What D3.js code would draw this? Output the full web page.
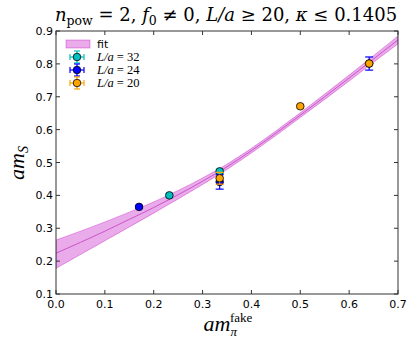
<!DOCTYPE html>
<html><head><meta charset="utf-8">
<script src="https://cdn.jsdelivr.net/npm/d3@7"></script>
<style>body{margin:0;background:#fff}svg{display:block}</style>
</head><body>
<svg id="c" width="416" height="348"></svg>
<script>
// ---- data ----
const fitX    = [0, 0.05, 0.1, 0.15, 0.2, 0.25, 0.3, 0.35, 0.4, 0.45, 0.5, 0.55, 0.6, 0.65, 0.7];
const fitMid  = [0.224, 0.257, 0.291, 0.327, 0.363, 0.402, 0.443, 0.487, 0.536, 0.589, 0.644, 0.700, 0.757, 0.815, 0.873];
const fitLow  = [0.178, 0.220, 0.262, 0.304, 0.346, 0.389, 0.433, 0.479, 0.529, 0.582, 0.637, 0.692, 0.748, 0.805, 0.861];
const fitHigh = [0.264, 0.291, 0.319, 0.349, 0.380, 0.415, 0.453, 0.495, 0.543, 0.596, 0.651, 0.708, 0.766, 0.825, 0.885];

const seriesNames = ["L/a = 32", "L/a = 24", "L/a = 20"];
const seriesColors = ["#00bfbf", "#0000ff", "#ffa500"];
const s32x = [0.232, 0.335];
const s32y = [0.400, 0.473];
const s32e = [0.005, 0.006];
const s24x = [0.170, 0.335, 0.641];
const s24y = [0.365, 0.441, 0.801];
const s24e = [0.004, 0.022, 0.020];
const s20x = [0.335, 0.500, 0.641];
const s20y = [0.452, 0.671, 0.801];
const s20e = [0.018, 0.005, 0.006];

const xTicks = [0, 0.1, 0.2, 0.3, 0.4, 0.5, 0.6, 0.7];
const yTicks = [0.1, 0.2, 0.3, 0.4, 0.5, 0.6, 0.7, 0.8, 0.9];

// ---- layout ----
const svg = d3.select("#c");
const L = 56, R = 398, T = 31, B = 294;
const x = d3.scaleLinear().domain([0, 0.7]).range([L, R]);
const y = d3.scaleLinear().domain([0.1, 0.9]).range([B, T]);

svg.append("defs").append("clipPath").attr("id", "pc")
  .append("rect").attr("x", L).attr("y", T).attr("width", R - L).attr("height", B - T);
const plot = svg.append("g").attr("clip-path", "url(#pc)");

// band
const fit = fitX.map((v, i) => ({x: v, m: fitMid[i], lo: fitLow[i], hi: fitHigh[i]}));
plot.append("path").datum(fit)
  .attr("d", d3.area().x(d => x(d.x)).y0(d => y(d.lo)).y1(d => y(d.hi)).curve(d3.curveMonotoneX))
  .attr("fill", "#bf00bf").attr("fill-opacity", 0.33)
  .attr("stroke", "#bf00bf").attr("stroke-opacity", 0.35).attr("stroke-width", 1);
plot.append("path").datum(fit)
  .attr("d", d3.line().x(d => x(d.x)).y(d => y(d.m)).curve(d3.curveMonotoneX))
  .attr("fill", "none").attr("stroke", "#c040c0").attr("stroke-width", 1).attr("stroke-opacity", 0.8);

// series
const series = [
  {xs: s32x, ys: s32y, es: s32e},
  {xs: s24x, ys: s24y, es: s24e},
  {xs: s20x, ys: s20y, es: s20e}
];
series.forEach((s, k) => {
  const col = seriesColors[k];
  const g = plot.append("g");
  const pts = s.xs.map((v, i) => ({x: v, y: s.ys[i], e: s.es[i]}));
  const eb = g.selectAll("g.eb").data(pts).join("g");
  eb.append("line").attr("x1", d => x(d.x)).attr("x2", d => x(d.x))
    .attr("y1", d => y(d.y - d.e)).attr("y2", d => y(d.y + d.e)).attr("stroke", col).attr("stroke-width", 1.2);
  [-1, 1].forEach(sg => {
    eb.append("line").attr("x1", d => x(d.x) - 4).attr("x2", d => x(d.x) + 4)
      .attr("y1", d => y(d.y + sg * d.e)).attr("y2", d => y(d.y + sg * d.e)).attr("stroke", col).attr("stroke-width", 1.2);
  });
  g.selectAll("circle").data(pts).join("circle")
    .attr("cx", d => x(d.x)).attr("cy", d => y(d.y)).attr("r", 3.8)
    .attr("fill", col).attr("stroke", "#000").attr("stroke-width", 0.8);
});

// frame & ticks
const ax = svg.append("g").attr("stroke", "#333").attr("stroke-width", 1);
ax.append("rect").attr("x", L).attr("y", T).attr("width", R - L).attr("height", B - T).attr("fill", "none");
xTicks.forEach(t => {
  ax.append("line").attr("x1", x(t)).attr("x2", x(t)).attr("y1", B).attr("y2", B - 4);
  ax.append("line").attr("x1", x(t)).attr("x2", x(t)).attr("y1", T).attr("y2", T + 4);
});
yTicks.forEach(t => {
  ax.append("line").attr("x1", L).attr("x2", L + 4).attr("y1", y(t)).attr("y2", y(t));
  ax.append("line").attr("x1", R).attr("x2", R - 4).attr("y1", y(t)).attr("y2", y(t));
});
const tf = "DejaVu Sans, sans-serif";
svg.append("g").selectAll("text").data(xTicks).join("text")
  .attr("x", d => x(d)).attr("y", B + 14).attr("text-anchor", "middle")
  .attr("font-family", tf).attr("font-size", 11).text(d => d.toFixed(1));
svg.append("g").selectAll("text").data(yTicks).join("text")
  .attr("x", L - 3).attr("y", d => y(d) + 4).attr("text-anchor", "end")
  .attr("font-family", tf).attr("font-size", 11).text(d => d.toFixed(1));

// axis labels
const sf = "Liberation Serif, DejaVu Serif, serif";
const xl = svg.append("text").attr("x", 228).attr("y", 331).attr("text-anchor", "middle")
  .attr("font-family", sf).attr("font-size", 22);
xl.append("tspan").attr("font-style", "italic").text("am");
xl.append("tspan").attr("font-style", "italic").attr("font-size", 13).attr("dy", 5).text("π");
xl.append("tspan").attr("font-size", 13).attr("dx", -7).attr("dy", -14).text("fake");

const yl = svg.append("text").attr("transform", "translate(24,163) rotate(-90)").attr("text-anchor", "middle")
  .attr("font-family", sf).attr("font-size", 22);
yl.append("tspan").attr("font-style", "italic").text("am");
yl.append("tspan").attr("font-style", "italic").attr("font-size", 14).attr("dy", 4).text("S");

// title
const tt = svg.append("text").attr("x", 226).attr("y", 21).attr("text-anchor", "middle")
  .attr("font-family", "DejaVu Serif, serif").attr("font-size", 18);
tt.append("tspan").attr("font-style", "italic").text("n");
tt.append("tspan").attr("font-size", 12.5).attr("dy", 4).text("pow");
tt.append("tspan").attr("dy", -4).text(" = 2, ");
tt.append("tspan").attr("font-style", "italic").text("f");
tt.append("tspan").attr("font-size", 12.5).attr("dy", 4).text("0");
tt.append("tspan").attr("dy", -4).text(" ≠ 0, ");
tt.append("tspan").attr("font-style", "italic").text("L/a");
tt.append("tspan").text(" ≥ 20, ");
tt.append("tspan").attr("font-style", "italic").text("κ");
tt.append("tspan").text(" ≤ 0.1405");

// legend
const lg = svg.append("g");
lg.append("rect").attr("x", 66).attr("y", 40).attr("width", 24).attr("height", 8)
  .attr("fill", "#bf00bf").attr("fill-opacity", 0.33).attr("stroke", "#bf00bf").attr("stroke-opacity", 0.35);
lg.append("text").attr("x", 97).attr("y", 48).attr("font-family", tf).attr("font-size", 11).text("fit");
seriesNames.forEach((n, k) => {
  const yy = 57 + k * 13, xx = 77, col = seriesColors[k];
  lg.append("line").attr("x1", xx).attr("x2", xx).attr("y1", yy - 6).attr("y2", yy + 6).attr("stroke", col).attr("stroke-width", 1.2);
  lg.append("line").attr("x1", xx - 7).attr("x2", xx + 7).attr("y1", yy).attr("y2", yy).attr("stroke", col).attr("stroke-width", 1.2);
  [-1, 1].forEach(sg => {
    lg.append("line").attr("x1", xx - 3).attr("x2", xx + 3).attr("y1", yy + sg * 6).attr("y2", yy + sg * 6).attr("stroke", col).attr("stroke-width", 1.2);
    lg.append("line").attr("x1", xx + sg * 7).attr("x2", xx + sg * 7).attr("y1", yy - 3).attr("y2", yy + 3).attr("stroke", col).attr("stroke-width", 1.2);
  });
  lg.append("circle").attr("cx", xx).attr("cy", yy).attr("r", 3.8).attr("fill", col).attr("stroke", "#000").attr("stroke-width", 0.8);
  const t = lg.append("text").attr("x", 97).attr("y", yy + 4).attr("font-family", sf).attr("font-size", 12.5);
  const parts = n.split(" = ");
  t.append("tspan").attr("font-style", "italic").text(parts[0]);
  t.append("tspan").text(" = " + parts[1]);
});
</script>
</body></html>
